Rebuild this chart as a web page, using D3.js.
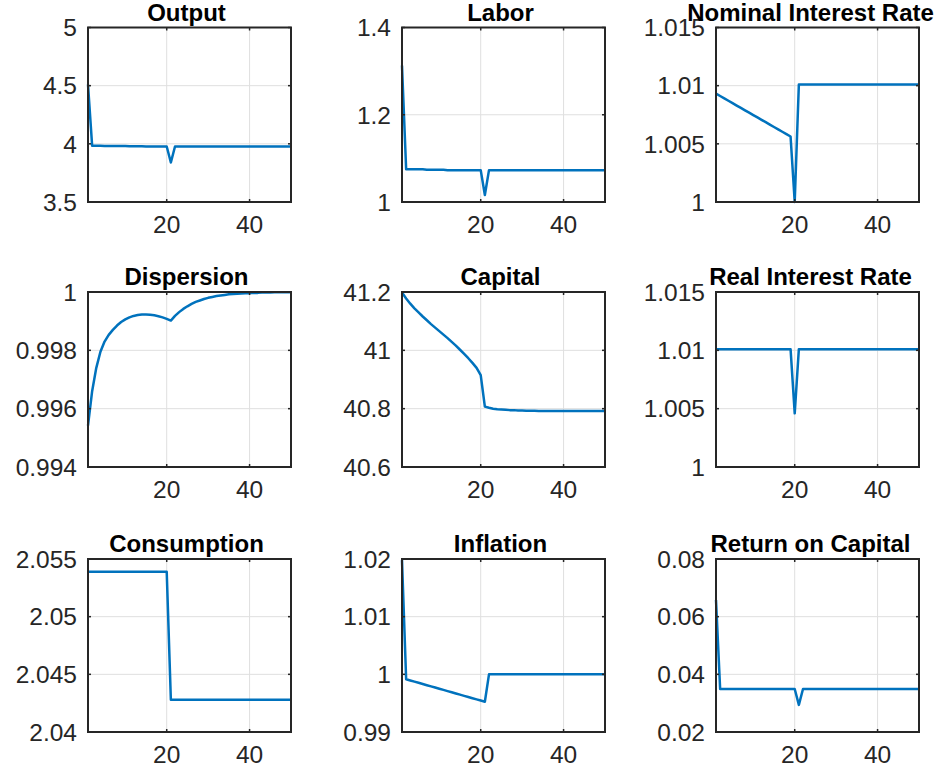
<!DOCTYPE html>
<html>
<head>
<meta charset="utf-8">
<script src="https://cdn.jsdelivr.net/npm/d3@7"></script>
<style>
  body { margin: 0; background: #fff; }
  .tick-label { font-family: "Liberation Sans", Arial, sans-serif; font-size: 24.5px; fill: #262626; }
  .title { font-family: "Liberation Sans", Arial, sans-serif; font-size: 24px; font-weight: bold; fill: #000; }
</style>
</head>
<body>
<div id="wrapper"></div>
<script>
// periods 1..50
const periods = [1,2,3,4,5,6,7,8,9,10,11,12,13,14,15,16,17,18,19,20,21,22,23,24,25,
  26,27,28,29,30,31,32,33,34,35,36,37,38,39,40,41,42,43,44,45,46,47,48,49,50]

const output = [4.51,3.983,3.983,3.983,3.982,3.982,3.982,3.981,3.981,3.981,
  3.980,3.979,3.979,3.979,3.978,3.978,3.978,3.978,3.977,3.977,
  3.840,3.977,3.977,3.977,3.977,3.977,3.977,3.977,3.977,3.977,
  3.977,3.977,3.977,3.977,3.977,3.977,3.977,3.977,3.977,3.977,
  3.977,3.977,3.977,3.977,3.977,3.977,3.977,3.977,3.977,3.977]

const labor = [1.313,1.075,1.075,1.075,1.075,1.075,1.074,1.074,1.074,1.074,
  1.074,1.073,1.073,1.073,1.073,1.073,1.073,1.073,1.073,1.073,
  1.016,1.073,1.073,1.073,1.073,1.073,1.073,1.073,1.073,1.073,
  1.073,1.073,1.073,1.073,1.073,1.073,1.073,1.073,1.073,1.073,
  1.073,1.073,1.073,1.073,1.073,1.073,1.073,1.073,1.073,1.073]

const nominalRate = [1.00932,1.00911,1.00891,1.00870,1.00850,1.00829,1.00809,1.00788,1.00768,1.00747,
  1.00727,1.00706,1.00686,1.00665,1.00645,1.00624,1.00604,1.00583,1.00563,1.0000,
  1.0101,1.0101,1.0101,1.0101,1.0101,1.0101,1.0101,1.0101,1.0101,1.0101,
  1.0101,1.0101,1.0101,1.0101,1.0101,1.0101,1.0101,1.0101,1.0101,1.0101,
  1.0101,1.0101,1.0101,1.0101,1.0101,1.0101,1.0101,1.0101,1.0101,1.0101]

const dispersion = [0.99542,0.99660,0.99740,0.99795,0.99830,0.99853,0.99870,0.99885,0.99897,0.99906,
  0.99913,0.99918,0.99921,0.99923,0.99923,0.99922,0.99920,0.99917,0.99913,0.99908,
  0.99902,0.99918,0.99931,0.99942,0.99951,0.99959,0.99966,0.99971,0.99976,0.99980,
  0.99983,0.99986,0.99988,0.99990,0.99992,0.99993,0.99994,0.99995,0.99996,0.99996,
  0.99997,0.99997,0.99998,0.99998,0.99998,0.99999,0.99999,0.99999,0.99999,0.99999]

const capital = [41.198,41.178,41.160,41.144,41.130,41.116,41.103,41.090,41.078,41.066,
  41.054,41.042,41.029,41.016,41.002,40.988,40.973,40.957,40.940,40.915,
  40.807,40.803,40.800,40.798,40.797,40.796,40.795,40.795,40.794,40.794,
  40.793,40.793,40.793,40.792,40.792,40.792,40.792,40.792,40.792,40.792,
  40.792,40.792,40.792,40.792,40.792,40.792,40.792,40.792,40.792,40.792]

const realRate = [1.0101,1.0101,1.0101,1.0101,1.0101,1.0101,1.0101,1.0101,1.0101,1.0101,
  1.0101,1.0101,1.0101,1.0101,1.0101,1.0101,1.0101,1.0101,1.0101,1.0046,
  1.0101,1.0101,1.0101,1.0101,1.0101,1.0101,1.0101,1.0101,1.0101,1.0101,
  1.0101,1.0101,1.0101,1.0101,1.0101,1.0101,1.0101,1.0101,1.0101,1.0101,
  1.0101,1.0101,1.0101,1.0101,1.0101,1.0101,1.0101,1.0101,1.0101,1.0101]

const consumption = [2.0539,2.0539,2.0539,2.0539,2.0539,2.0539,2.0539,2.0539,2.0539,2.0539,
  2.0539,2.0539,2.0539,2.0539,2.0539,2.0539,2.0539,2.0539,2.0539,2.0539,
  2.0428,2.0428,2.0428,2.0428,2.0428,2.0428,2.0428,2.0428,2.0428,2.0428,
  2.0428,2.0428,2.0428,2.0428,2.0428,2.0428,2.0428,2.0428,2.0428,2.0428,
  2.0428,2.0428,2.0428,2.0428,2.0428,2.0428,2.0428,2.0428,2.0428,2.0428]

const inflation = [1.0198,0.99914,0.99894,0.99873,0.99853,0.99832,0.99812,0.99791,0.99771,0.99750,
  0.99730,0.99709,0.99689,0.99668,0.99648,0.99627,0.99607,0.99586,0.99566,0.99545,
  0.99525,1.0000,1.0000,1.0000,1.0000,1.0000,1.0000,1.0000,1.0000,1.0000,
  1.0000,1.0000,1.0000,1.0000,1.0000,1.0000,1.0000,1.0000,1.0000,1.0000,
  1.0000,1.0000,1.0000,1.0000,1.0000,1.0000,1.0000,1.0000,1.0000,1.0000]

const returnOnCapital = [0.0658,0.0349,0.0349,0.0349,0.0349,0.0349,0.0349,0.0349,0.0349,0.0349,
  0.0349,0.0349,0.0349,0.0349,0.0349,0.0349,0.0349,0.0349,0.0349,0.0349,
  0.0294,0.0349,0.0349,0.0349,0.0349,0.0349,0.0349,0.0349,0.0349,0.0349,
  0.0349,0.0349,0.0349,0.0349,0.0349,0.0349,0.0349,0.0349,0.0349,0.0349,
  0.0349,0.0349,0.0349,0.0349,0.0349,0.0349,0.0349,0.0349,0.0349,0.0349]

const titles = ["Output", "Labor", "Nominal Interest Rate",
  "Dispersion", "Capital", "Real Interest Rate",
  "Consumption", "Inflation", "Return on Capital"]
const series = [output, labor, nominalRate, dispersion, capital, realRate, consumption, inflation, returnOnCapital]
const yDomains = [[3.5, 5], [1, 1.4], [1, 1.015], [0.994, 1], [40.6, 41.2], [1, 1.015], [2.04, 2.055], [0.99, 1.02], [0.02, 0.08]]
const yTicks = [
  [3.5, 4, 4.5, 5], [1, 1.2, 1.4], [1, 1.005, 1.01, 1.015],
  [0.994, 0.996, 0.998, 1], [40.6, 40.8, 41, 41.2], [1, 1.005, 1.01, 1.015],
  [2.04, 2.045, 2.05, 2.055], [0.99, 1, 1.01, 1.02], [0.02, 0.04, 0.06, 0.08]
]
const xTicks = [20, 40]

// layout
const width = 938
const height = 772
const colLefts = [88, 402, 716]
const titleShift = [-3, -3, -7]
const plotWidth = 203
const rowBounds = [[27.5, 202], [292, 467], [559, 732]]

const svg = d3.select("#wrapper")
  .append("svg")
    .attr("width", width)
    .attr("height", height)

const fmt = d => String(+d.toFixed(6))

series.forEach((values, i) => {
  const col = i % 3
  const row = Math.floor(i / 3)
  const x0 = colLefts[col]
  const [y0, y1] = rowBounds[row]
  const h = y1 - y0

  const g = svg.append("g").attr("transform", `translate(${x0},${y0})`)

  const xScale = d3.scaleLinear().domain([1, 50]).range([0, plotWidth])
  const yScale = d3.scaleLinear().domain(yDomains[i]).range([h, 0])

  // grid
  g.selectAll(".vgrid").data(xTicks).join("line")
    .attr("x1", d => xScale(d)).attr("x2", d => xScale(d))
    .attr("y1", 0).attr("y2", h)
    .attr("stroke", "#dfdfdf").attr("stroke-width", 1)
  g.selectAll(".hgrid").data(yTicks[i]).join("line")
    .attr("x1", 0).attr("x2", plotWidth)
    .attr("y1", d => yScale(d)).attr("y2", d => yScale(d))
    .attr("stroke", "#dfdfdf").attr("stroke-width", 1)

  // line
  const line = d3.line()
    .x((d, j) => xScale(periods[j]))
    .y(d => yScale(d))
  g.append("path")
    .datum(values)
    .attr("d", line)
    .attr("fill", "none")
    .attr("stroke", "#0072bd")
    .attr("stroke-width", 2.5)
    .attr("stroke-linejoin", "round")

  // ticks on all four sides
  const tl = 3
  xTicks.forEach(d => {
    g.append("line").attr("x1", xScale(d)).attr("x2", xScale(d)).attr("y1", h).attr("y2", h - tl)
      .attr("stroke", "#262626").attr("stroke-width", 1.5)
    g.append("line").attr("x1", xScale(d)).attr("x2", xScale(d)).attr("y1", 0).attr("y2", tl)
      .attr("stroke", "#262626").attr("stroke-width", 1.5)
  })
  yTicks[i].forEach(d => {
    g.append("line").attr("x1", 0).attr("x2", tl).attr("y1", yScale(d)).attr("y2", yScale(d))
      .attr("stroke", "#262626").attr("stroke-width", 1.5)
    g.append("line").attr("x1", plotWidth).attr("x2", plotWidth - tl).attr("y1", yScale(d)).attr("y2", yScale(d))
      .attr("stroke", "#262626").attr("stroke-width", 1.5)
  })

  // box
  g.append("rect")
    .attr("width", plotWidth).attr("height", h)
    .attr("fill", "none").attr("stroke", "#262626").attr("stroke-width", 2)

  // tick labels
  g.selectAll(".ylab").data(yTicks[i]).join("text")
    .attr("class", "tick-label")
    .attr("x", -11)
    .attr("y", d => yScale(d))
    .attr("dy", "0.36em")
    .attr("text-anchor", "end")
    .text(fmt)
  g.selectAll(".xlab").data(xTicks).join("text")
    .attr("class", "tick-label")
    .attr("x", d => xScale(d))
    .attr("y", h + 31)
    .attr("text-anchor", "middle")
    .text(d => d)

  // title
  g.append("text")
    .attr("class", "title")
    .attr("x", plotWidth / 2 + titleShift[col])
    .attr("y", -7)
    .attr("text-anchor", "middle")
    .text(titles[i])
})
</script>
</body>
</html>
